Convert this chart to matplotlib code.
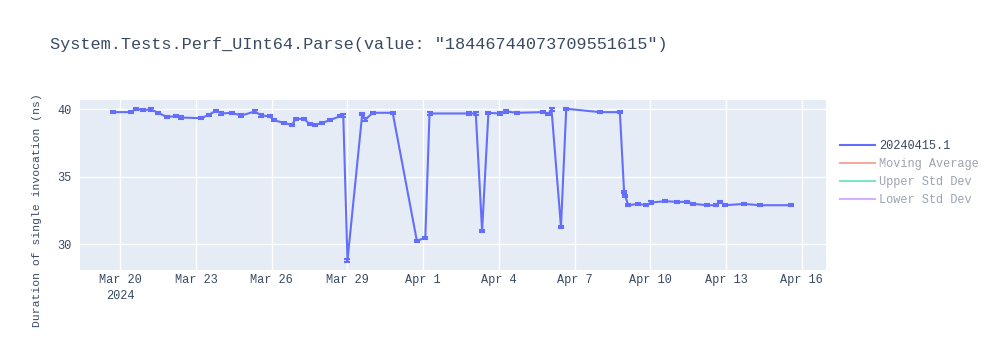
import pandas as pd
import matplotlib
matplotlib.use('Agg')
import matplotlib.pyplot as plt
from matplotlib.lines import Line2D

# values
times = ['2024-03-19 17:00', '2024-03-20 10:00', '2024-03-20 15:00', '2024-03-20 22:00',
         '2024-03-21 05:00', '2024-03-21 12:00', '2024-03-21 20:00', '2024-03-22 05:00',
         '2024-03-22 10:00', '2024-03-23 05:00', '2024-03-23 12:00', '2024-03-23 19:00',
         '2024-03-24 00:00', '2024-03-24 10:00', '2024-03-24 19:00', '2024-03-25 08:00',
         '2024-03-25 14:00', '2024-03-25 22:00', '2024-03-26 02:00', '2024-03-26 12:00',
         '2024-03-26 19:00', '2024-03-26 23:00', '2024-03-27 07:00', '2024-03-27 12:00',
         '2024-03-27 17:00', '2024-03-28 00:00', '2024-03-28 07:00', '2024-03-28 17:00',
         '2024-03-28 20:00', '2024-03-29 00:00', '2024-03-29 14:00', '2024-03-29 17:00',
         '2024-03-30 00:00', '2024-03-30 19:00', '2024-03-31 18:00', '2024-04-01 02:00',
         '2024-04-01 06:00', '2024-04-02 20:00', '2024-04-03 02:00', '2024-04-03 08:00',
         '2024-04-03 14:00', '2024-04-04 01:00', '2024-04-04 07:00', '2024-04-04 17:00',
         '2024-04-05 18:00', '2024-04-05 23:00', '2024-04-06 02:00', '2024-04-06 11:00',
         '2024-04-06 16:00', '2024-04-08 00:00', '2024-04-08 19:00', '2024-04-08 23:00',
         '2024-04-09 00:00', '2024-04-09 03:00', '2024-04-09 12:00', '2024-04-09 20:00',
         '2024-04-10 01:00', '2024-04-10 14:00', '2024-04-11 01:00', '2024-04-11 11:00',
         '2024-04-11 17:00', '2024-04-12 06:00', '2024-04-12 14:00', '2024-04-12 18:00',
         '2024-04-12 23:00', '2024-04-13 17:00', '2024-04-14 08:00', '2024-04-15 14:00']
durations = [39.8, 39.8, 40.05, 39.95, 40.0, 39.75, 39.45, 39.5,
             39.4, 39.35, 39.6, 39.9, 39.7, 39.75, 39.55, 39.85,
             39.55, 39.5, 39.2, 39.0, 38.85, 39.3, 39.3, 38.9,
             38.85, 39.0, 39.2, 39.5, 39.55, 28.8, 39.65, 39.25,
             39.75, 39.75, 30.25, 30.5, 39.7, 39.7, 39.7, 31.0,
             39.75, 39.7, 39.85, 39.75, 39.8, 39.65, 40.0, 31.3,
             40.05, 39.8, 39.8, 33.9, 33.6, 32.9, 33.0, 32.9,
             33.1, 33.2, 33.15, 33.15, 33.0, 32.9, 32.9, 33.15,
             32.9, 33.0, 32.9, 32.9]
std_dev = 0.08
series_names = ['20240415.1', 'Moving Average', 'Upper Std Dev', 'Lower Std Dev']
series_colors = ['#636EFA', '#EF553B', '#00CC96', '#AB63FA']
tick_dates = pd.date_range('2024-03-20', periods=10, freq='3D')

title = 'System.Tests.Perf_UInt64.Parse(value: "18446744073709551615")'
ylabel = 'Duration of single invocation (ns)'

plt.rcParams['font.family'] = ['Liberation Mono', 'DejaVu Sans Mono']
txt = '#3a4a63'

x = pd.to_datetime(times)

fig = plt.figure(figsize=(10, 3.5), dpi=100)
ax = fig.add_axes([0.08, 0.2286, 0.746, 0.4857])
ax.set_facecolor('#E5ECF6')
for s in ax.spines.values():
    s.set_visible(False)

ax.errorbar(x, durations, yerr=std_dev, color=series_colors[0], lw=1.5,
            elinewidth=1.5, capsize=2.3, capthick=1.5, zorder=3)

ax.set_xlim(pd.Timestamp('2024-03-18 09:40'), pd.Timestamp('2024-04-16 23:00'))
ax.set_ylim(28.1, 40.7)
ax.set_yticks([30, 35, 40])
ax.set_xticks(tick_dates)
labels = [d.strftime('%b ') + str(d.day) for d in tick_dates]
labels[0] = labels[0] + '\n2024'
ax.set_xticklabels(labels)
ax.grid(True, color='white', lw=1)
ax.set_axisbelow(True)
ax.tick_params(axis='x', length=0, labelsize=8.6, colors=txt, pad=3)
ax.tick_params(axis='y', length=0, labelsize=8.6, colors=txt, pad=6)
for lab in ax.get_xticklabels():
    lab.set_linespacing(1.4)

fig.text(0.05, 1 - 45 / 350, title, fontsize=12.2, color=txt, va='center', ha='left')
fig.text(0.037, 0.4, ylabel, fontsize=8.2, color=txt, rotation=90, va='center', ha='center')

handles = []
for i, (name, c) in enumerate(zip(series_names, series_colors)):
    handles.append(Line2D([], [], color=c, lw=1.5, alpha=1.0 if i == 0 else 0.5))
leg = fig.legend(handles, series_names, loc='upper left', bbox_to_anchor=(0.84, 0.60),
                 frameon=False, fontsize=8.6, handlelength=2.9, handletextpad=0.4,
                 labelspacing=0.5, borderpad=0, borderaxespad=0)
for i, t in enumerate(leg.get_texts()):
    t.set_color(txt)
    if i > 0:
        t.set_alpha(0.5)

fig.savefig('out.png', dpi=100)
